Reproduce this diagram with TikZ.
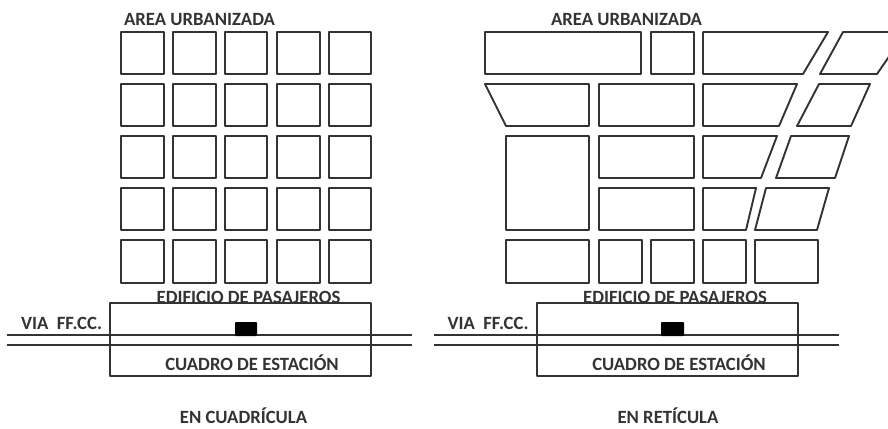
\documentclass[tikz,border=0pt]{standalone}
\usepackage{fontspec}
\setmainfont{Carlito}
\definecolor{ink}{HTML}{333333}
\tikzset{
  block/.style={draw=ink,line width=1.9pt,line join=round},
  rail/.style={draw=ink,line width=1.7pt},
  lab/.style={text=ink,font=\fontsize{18.7}{19}\selectfont\bfseries,inner sep=0pt,anchor=base},
  station/.style={fill=black,draw=none,rounded corners=0.8pt}
}
\begin{document}
\begin{tikzpicture}[x=1pt,y=-1pt]
\useasboundingbox (0,0) rectangle (888,428);
\clip (0,0) rectangle (888,428);
% left grid
\foreach \xa/\xb in {121/164,173/216,225/267,277/320,329/371}{
  \foreach \ya/\yb in {32/74,84/126,136/178,188/230,240/283}{
    \draw[block] (\xa,\ya) rectangle (\xb,\yb);
  }
}
% right grid
\draw[block] (485,32) rectangle (641,74);
\draw[block] (651,32) rectangle (694,74);
\draw[block] (703,32) -- (828,32) -- (803,74) -- (703,74) -- cycle;
\draw[block] (843,32) -- (906,32) -- (877,74) -- (820,74) -- cycle;
\draw[block] (485,84) -- (589,84) -- (589,126) -- (506,126) -- cycle;
\draw[block] (599,84) rectangle (694,126);
\draw[block] (703,84) -- (797,84) -- (779,126) -- (703,126) -- cycle;
\draw[block] (819,84) -- (870,84) -- (851,126) -- (797,126) -- cycle;
\draw[block] (506,136) rectangle (589,230);
\draw[block] (599,136) rectangle (694,178);
\draw[block] (703,136) -- (777,136) -- (761,178) -- (703,178) -- cycle;
\draw[block] (791,136) -- (849,136) -- (835,178) -- (776,178) -- cycle;
\draw[block] (599,188) rectangle (694,230);
\draw[block] (703,188) -- (756,188) -- (746,230) -- (703,230) -- cycle;
\draw[block] (766,188) -- (829,188) -- (817,230) -- (755,230) -- cycle;
\foreach \xa/\xb in {506/589,599/642,651/694,703/746,755/818}{
  \draw[block] (\xa,240) rectangle (\xb,283);
}
% station squares and tracks
\draw[block] (110,303) rectangle (371,376);
\draw[block] (537,303) rectangle (798,376);
\draw[rail] (7,335) -- (412,335);
\draw[rail] (7,345) -- (412,345);
\draw[rail] (434,335) -- (839,335);
\draw[rail] (434,345) -- (839,345);
\fill[station] (235,322) rectangle (257,336);
\fill[station] (661,322) rectangle (684,336);
% labels
\node[lab] (au1) at (199.5,26) {AREA URBANIZADA};
\node[lab] (au2) at (626.5,26) {AREA URBANIZADA};
\node[lab] (ed1) at (248.5,303) {EDIFICIO DE PASAJEROS};
\node[lab] (ed2) at (675,303) {EDIFICIO DE PASAJEROS};
\node[lab] (via1) at (61.5,329) {VIA\ \ FF.CC.};
\node[lab] (via2) at (488,329) {VIA\ \ FF.CC.};
\node[lab] (cu1) at (252,370) {CUADRO DE ESTACIÓN};
\node[lab] (cu2) at (679,370) {CUADRO DE ESTACIÓN};
\node[lab] (t1) at (243.5,423) {EN CUADRÍCULA};
\node[lab] (t2) at (668,423) {EN RETÍCULA};
\end{tikzpicture}
\end{document}
